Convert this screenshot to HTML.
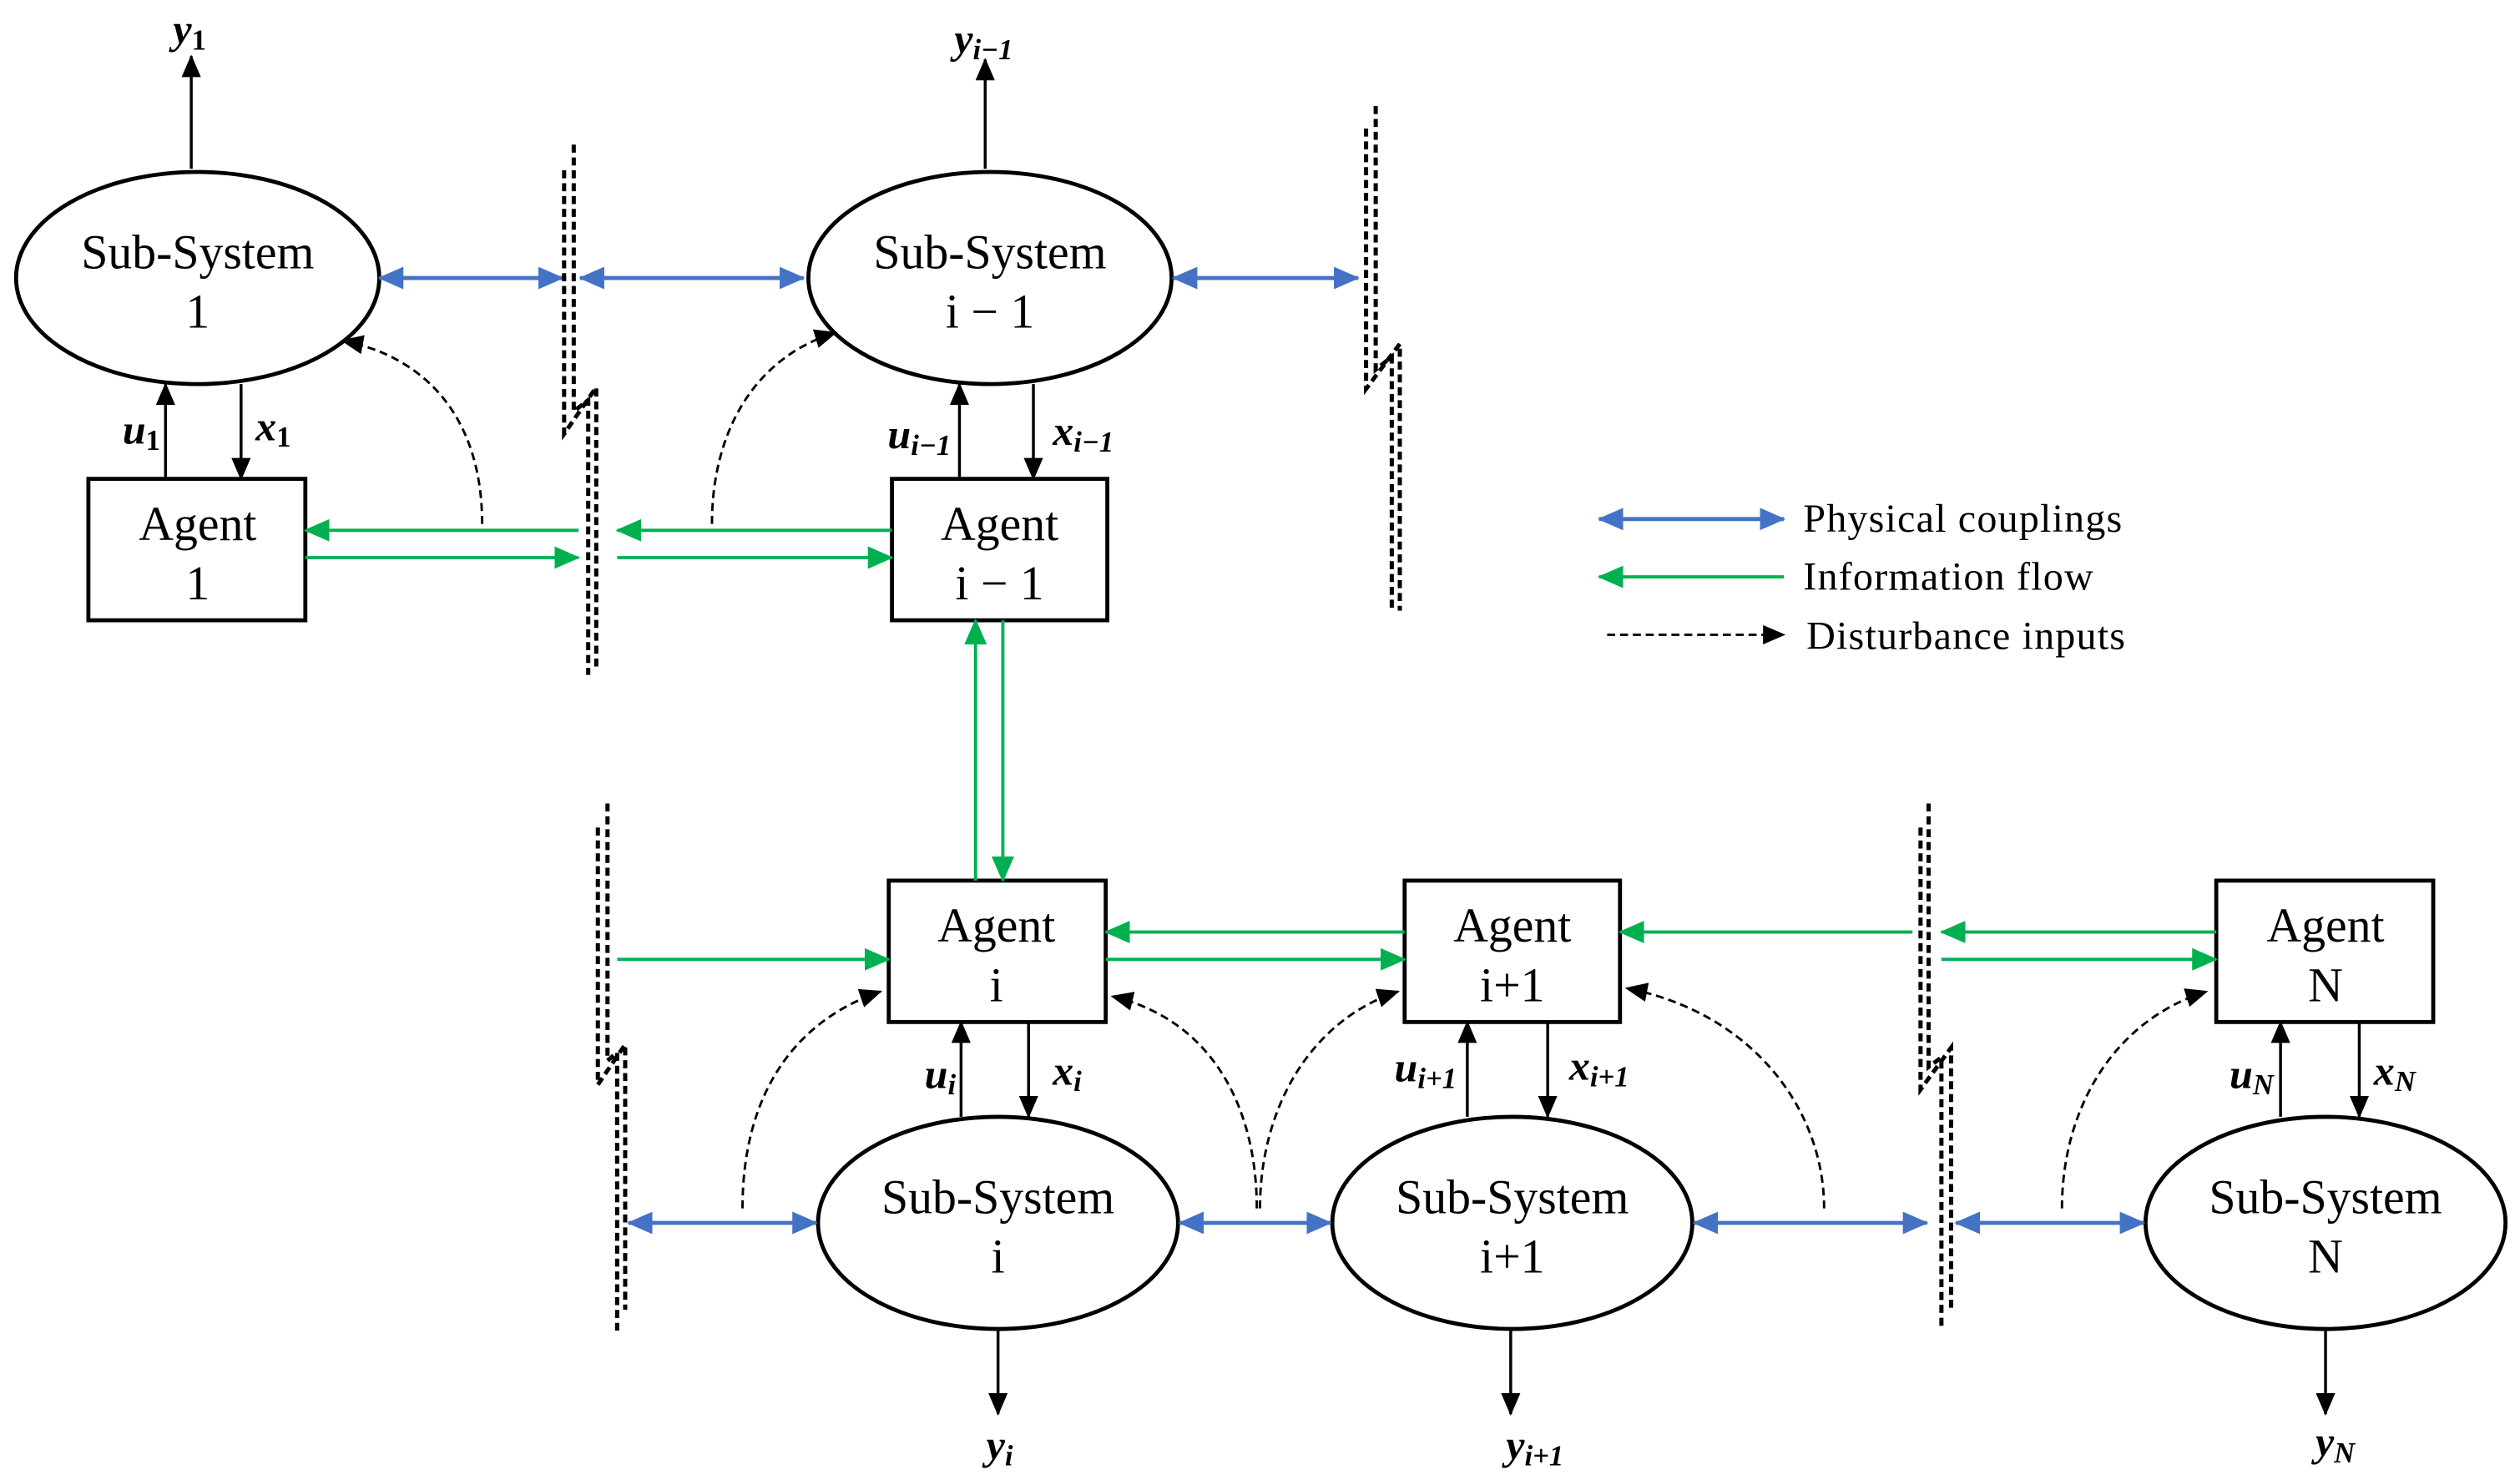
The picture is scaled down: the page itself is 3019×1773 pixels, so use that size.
<!DOCTYPE html>
<html><head><meta charset="utf-8"><style>
html,body{margin:0;padding:0;background:#fff;}
svg{display:block;}
text{font-family:"Liberation Serif",serif;}
.t{font-size:30px;text-anchor:middle;}
.m{font-size:26px;font-style:italic;font-weight:bold;text-anchor:middle;}
.s{font-size:18px;font-style:normal;}
.si{font-size:18px;}
.lg{font-size:25px;letter-spacing:0.6px;}
</style></head><body>
<svg width="3019" height="1773" viewBox="0 0 1568 921" preserveAspectRatio="none" xmlns="http://www.w3.org/2000/svg">
<defs>
<marker id="ak" markerUnits="userSpaceOnUse" markerWidth="14" markerHeight="12" refX="13" refY="6" orient="auto-start-reverse"><path d="M0,0 L14,6 L0,12 z" fill="#000"/></marker>
<marker id="ab" markerUnits="userSpaceOnUse" markerWidth="16" markerHeight="14" refX="15" refY="7" orient="auto-start-reverse"><path d="M0,0 L16,7 L0,14 z" fill="#4472C4"/></marker>
<marker id="ag" markerUnits="userSpaceOnUse" markerWidth="16" markerHeight="14" refX="15" refY="7" orient="auto-start-reverse"><path d="M0,0 L16,7 L0,14 z" fill="#00B050"/></marker>
</defs>
<g fill="none" stroke="#000" stroke-width="2.5">
<ellipse cx="123" cy="173" rx="113" ry="66"/>
<ellipse cx="616" cy="173" rx="113" ry="66"/>
<ellipse cx="621" cy="761" rx="112" ry="66"/>
<ellipse cx="941" cy="761" rx="112" ry="66"/>
<ellipse cx="1447" cy="761" rx="112" ry="66"/>
<rect x="55" y="298" width="135" height="88"/>
<rect x="555" y="298" width="134" height="88"/>
<rect x="553" y="548" width="135" height="88"/>
<rect x="874" y="548" width="134" height="88"/>
<rect x="1379" y="548" width="135" height="88"/>
</g>
<g class="t" fill="#000">
<text x="123" y="167">Sub-System</text><text x="123" y="204">1</text>
<text x="616" y="167">Sub-System</text><text x="616" y="204">i − 1</text>
<text x="621" y="755">Sub-System</text><text x="621" y="792">i</text>
<text x="941" y="755">Sub-System</text><text x="941" y="792">i+1</text>
<text x="1447" y="755">Sub-System</text><text x="1447" y="792">N</text>
<text x="123" y="336">Agent</text><text x="123" y="373">1</text>
<text x="622" y="336">Agent</text><text x="622" y="373">i − 1</text>
<text x="620" y="586">Agent</text><text x="620" y="623">i</text>
<text x="941" y="586">Agent</text><text x="941" y="623">i+1</text>
<text x="1447" y="586">Agent</text><text x="1447" y="623">N</text>
</g>
<g stroke="#000" stroke-width="1.8" marker-end="url(#ak)">
<line x1="119" y1="105" x2="119" y2="35"/>
<line x1="613" y1="105" x2="613" y2="37"/>
<line x1="103" y1="298" x2="103" y2="239"/>
<line x1="150" y1="239" x2="150" y2="298"/>
<line x1="597" y1="298" x2="597" y2="239"/>
<line x1="643" y1="239" x2="643" y2="298"/>
<line x1="598" y1="695" x2="598" y2="636"/>
<line x1="640" y1="636" x2="640" y2="695"/>
<line x1="913" y1="695" x2="913" y2="636"/>
<line x1="963" y1="636" x2="963" y2="695"/>
<line x1="1419" y1="695" x2="1419" y2="636"/>
<line x1="1468" y1="636" x2="1468" y2="695"/>
<line x1="621" y1="827" x2="621" y2="880"/>
<line x1="940" y1="827" x2="940" y2="880"/>
<line x1="1447" y1="827" x2="1447" y2="880"/>
</g>
<g class="m" fill="#000">
<text x="118" y="27">y<tspan class="s" dy="4">1</tspan></text>
<text x="612" y="33">y<tspan class="si" dy="4">i−1</tspan></text>
<text x="88" y="276">u<tspan class="s" dy="4">1</tspan></text>
<text x="170" y="274">x<tspan class="s" dy="4">1</tspan></text>
<text x="572" y="279">u<tspan class="si" dy="4">i−1</tspan></text>
<text x="674" y="277">x<tspan class="si" dy="4">i−1</tspan></text>
<text x="585" y="677">u<tspan class="si" dy="4">i</tspan></text>
<text x="664" y="675">x<tspan class="si" dy="4">i</tspan></text>
<text x="887" y="673">u<tspan class="si" dy="4">i+1</tspan></text>
<text x="995" y="672">x<tspan class="si" dy="4">i+1</tspan></text>
<text x="1401" y="677">u<tspan class="si" dy="4">N</tspan></text>
<text x="1490" y="675">x<tspan class="si" dy="4">N</tspan></text>
<text x="622" y="908">y<tspan class="si" dy="4">i</tspan></text>
<text x="955" y="908">y<tspan class="si" dy="4">i+1</tspan></text>
<text x="1453" y="906">y<tspan class="si" dy="4">N</tspan></text>
</g>
<g stroke="#4472C4" stroke-width="2.5" marker-start="url(#ab)" marker-end="url(#ab)">
<line x1="236" y1="173" x2="350" y2="173"/>
<line x1="361" y1="173" x2="500" y2="173"/>
<line x1="730" y1="173" x2="845" y2="173"/>
<line x1="391" y1="761" x2="508" y2="761"/>
<line x1="734" y1="761" x2="828" y2="761"/>
<line x1="1054" y1="761" x2="1199" y2="761"/>
<line x1="1217" y1="761" x2="1334" y2="761"/>
<line x1="995" y1="323" x2="1110" y2="323"/>
</g>
<g stroke="#00B050" stroke-width="2" marker-end="url(#ag)">
<line x1="360" y1="330" x2="190" y2="330"/>
<line x1="190" y1="347" x2="360" y2="347"/>
<line x1="555" y1="330" x2="384" y2="330"/>
<line x1="384" y1="347" x2="555" y2="347"/>
<line x1="607" y1="548" x2="607" y2="386"/>
<line x1="624" y1="386" x2="624" y2="548"/>
<line x1="874" y1="580" x2="688" y2="580"/>
<line x1="688" y1="597" x2="874" y2="597"/>
<line x1="384" y1="597" x2="553" y2="597"/>
<line x1="1190" y1="580" x2="1008" y2="580"/>
<line x1="1379" y1="580" x2="1208" y2="580"/>
<line x1="1208" y1="597" x2="1379" y2="597"/>
<line x1="1110" y1="359" x2="995" y2="359"/>
</g>
<g fill="none" stroke="#000" stroke-width="1.5" stroke-dasharray="5 3" marker-end="url(#ak)">
<path d="M300,326 C300,260 265,222 213,212"/>
<path d="M443,326 C443,268 470,222 520,207"/>
<path d="M462,752 C462,680 495,635 548,617"/>
<path d="M782,752 C782,690 755,635 692,620"/>
<path d="M784,752 C784,690 815,635 870,617"/>
<path d="M1135,752 C1135,690 1090,630 1012,615"/>
<path d="M1283,752 C1283,690 1315,635 1373,617"/>
<line x1="1000" y1="395" x2="1110" y2="395"/>
</g>
<g fill="none" stroke="#000" stroke-width="2.6" stroke-dasharray="5 3">
<polyline points="351,106 351,270 371,241 371,415"/>
<polyline points="357,90 357,256 366,249 366,420"/>
<polyline points="850,80 850,242 871,214 871,380"/>
<polyline points="856,66 856,230 866,222 866,380"/>
<polyline points="372,515 372,675 389,650 389,815"/>
<polyline points="378,500 378,660 384,655 384,828"/>
<polyline points="1195,515 1195,678 1214,652 1214,815"/>
<polyline points="1200,500 1200,664 1208,658 1208,828"/>
</g>
<g class="lg" fill="#000">
<text x="1122" y="331">Physical couplings</text>
<text x="1122" y="367">Information flow</text>
<text x="1124" y="404">Disturbance inputs</text>
</g>
</svg>
</body></html>
